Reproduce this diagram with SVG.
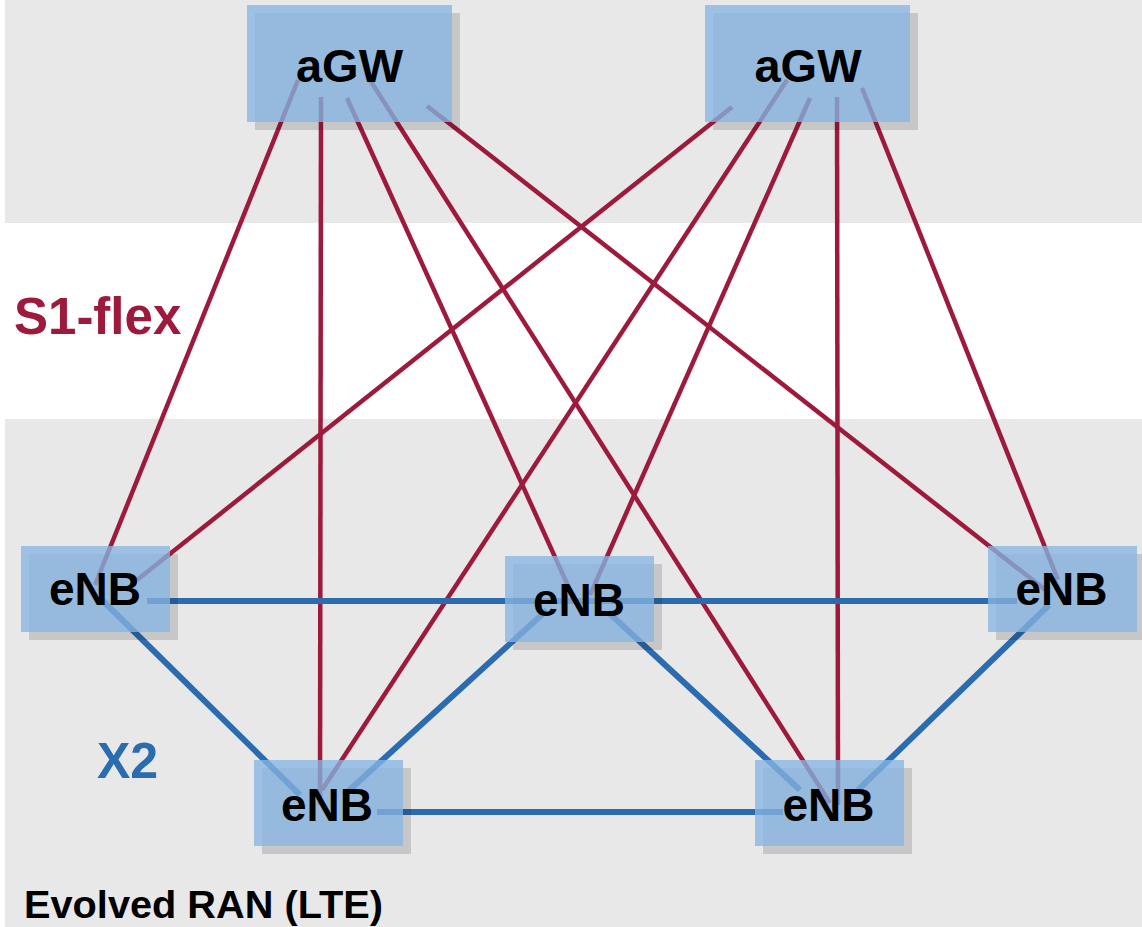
<svg xmlns="http://www.w3.org/2000/svg" width="1142" height="927" viewBox="0 0 1142 927">
<style>
.band{fill:#e8e8e8}
.shadow{fill:#000;fill-opacity:0.14}
.box{fill:#87b6e4;fill-opacity:0.78}
.lbl{font-family:"Liberation Sans",Arial,sans-serif;font-weight:bold;fill:#000;text-anchor:middle}
.gw{font-size:47px}
.nb{font-size:46px}
.s1{stroke:#9e1a3c;stroke-width:4.5;fill:none}
.x2{stroke:#2b6cb0;stroke-width:6;fill:none}
.cap{font-family:"Liberation Sans",Arial,sans-serif;font-weight:bold}
</style>
<rect x="0" y="0" width="1142" height="927" fill="#ffffff"/>
<rect class="band" x="5" y="0" width="1137" height="223"/>
<rect class="band" x="5" y="419" width="1137" height="508"/>
<text class="cap" x="14" y="334" font-size="51" fill="#9e1a3c">S1-flex</text>
<text class="cap" x="97" y="778" font-size="50" fill="#2b6cb0">X2</text>
<text class="cap" x="24" y="918" font-size="39" fill="#000" textLength="359" lengthAdjust="spacingAndGlyphs">Evolved RAN (LTE)</text>
<g id="connectors">
<line class="s1" x1="298" y1="80" x2="95" y2="585"/>
<line class="s1" x1="321" y1="97" x2="320" y2="805"/>
<line class="s1" x1="347" y1="98" x2="574" y2="599"/>
<line class="s1" x1="370" y1="80" x2="830" y2="803"/>
<line class="s1" x1="427" y1="106" x2="1048" y2="592"/>
<line class="s1" x1="732" y1="107" x2="137" y2="580"/>
<line class="s1" x1="787" y1="80" x2="322" y2="790"/>
<line class="s1" x1="810" y1="98" x2="590" y2="595"/>
<line class="s1" x1="837" y1="97" x2="838" y2="805"/>
<line class="s1" x1="862" y1="88" x2="1058" y2="580"/>
<line class="x2" x1="147" y1="601" x2="1017" y2="601"/>
<line class="x2" x1="100" y1="598" x2="300" y2="795"/>
<line class="x2" x1="344" y1="795" x2="547" y2="610"/>
<line class="x2" x1="608" y1="612" x2="800" y2="790"/>
<line class="x2" x1="1049" y1="605" x2="858" y2="790"/>
<line class="x2" x1="377" y1="812" x2="783" y2="812"/>
</g>
<g id="agw1">
<rect class="shadow" x="255" y="13" width="205" height="117"/>
<rect class="box" x="247" y="5" width="205" height="117"/>
<text class="lbl gw" x="349.5" y="82">aGW</text>
</g>
<g id="agw2">
<rect class="shadow" x="713" y="13" width="205" height="117"/>
<rect class="box" x="705" y="5" width="205" height="117"/>
<text class="lbl gw" x="808" y="82">aGW</text>
</g>
<g id="enb-left">
<rect class="shadow" x="29" y="554" width="149" height="86"/>
<rect class="box" x="21" y="546" width="149" height="86"/>
<text class="lbl nb" x="95" y="605">eNB</text>
</g>
<g id="enb-middle">
<rect class="shadow" x="513" y="564" width="149" height="86"/>
<rect class="box" x="505" y="556" width="149" height="86"/>
<text class="lbl nb" x="579" y="616">eNB</text>
</g>
<g id="enb-right">
<rect class="shadow" x="996" y="554" width="149" height="86"/>
<rect class="box" x="988" y="546" width="149" height="86"/>
<text class="lbl nb" x="1061.5" y="605">eNB</text>
</g>
<g id="enb-bottom-left">
<rect class="shadow" x="262" y="768" width="149" height="86"/>
<rect class="box" x="254" y="760" width="149" height="86"/>
<text class="lbl nb" x="327" y="821">eNB</text>
</g>
<g id="enb-bottom-right">
<rect class="shadow" x="763" y="768" width="149" height="86"/>
<rect class="box" x="755" y="760" width="149" height="86"/>
<text class="lbl nb" x="828.5" y="821">eNB</text>
</g>
</svg>
